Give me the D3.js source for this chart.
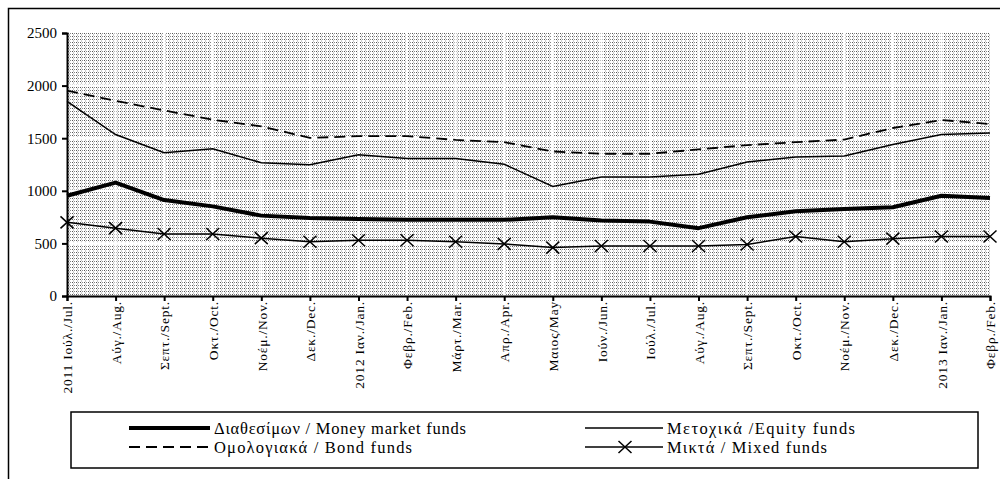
<!DOCTYPE html>
<html><head><meta charset="utf-8">
<script src="https://cdn.jsdelivr.net/npm/d3@7"></script>
<style>
html,body{margin:0;padding:0;background:#fff;}
svg{display:block;}
</style></head>
<body>
<svg id="chart" width="1000" height="479"></svg>
<script>
const categories = ["2011 Ιούλ./Jul.","Αύγ./Aug.","Σεπτ./Sept.","Οκτ./Oct.","Νοέμ./Nov.","Δεκ./Dec.","2012 Ιαν./Jan.","Φεβρ./Feb.","Μάρτ./Mar.","Απρ./Apr.","Μαιος/May","Ιούν./Jun.","Ιούλ./Jul.","Αύγ./Aug.","Σεπτ./Sept.","Οκτ./Οct.","Νοέμ./Nov.","Δεκ./Dec.","2013 Ιαν./Jan.","Φεβρ./Feb."];
const moneyMarket = [953,1078,912,852,764,742,733,724,724,724,748,717,707,645,748,805,827,843,953,931];
const equity = [1849,1535,1361,1399,1267,1248,1342,1308,1308,1252,1041,1132,1132,1157,1274,1321,1330,1440,1535,1550];
const bond = [1953,1855,1764,1676,1613,1503,1519,1519,1484,1462,1374,1352,1352,1393,1434,1462,1487,1597,1673,1635];
const mixed = [700,645,590,590,550,515,530,530,515,495,460,475,475,475,490,565,515,545,565,565];
const yTicks = [0,500,1000,1500,2000,2500];
const seriesNames = ["Διαθεσίμων / Money market funds","Ομολογιακά / Bond funds","Μετοχικά /Equity funds","Μικτά / Mixed funds"];

const FONT = "'Liberation Serif','Times New Roman',serif";
const svg = d3.select("#chart");
const pLeft = 67, pRight = 990, pTop = 33, pBottom = 296;
const x = d3.scalePoint().domain(d3.range(categories.length)).range([pLeft, pRight]);
const y = d3.scaleLinear().domain([0, 2500]).range([pBottom, pTop]);

// outer frame
svg.append("path").attr("d", "M8.5,479 V8.5 H1000").attr("fill","none").attr("stroke","#000").attr("stroke-width",1.5);

// dotted pattern
const defs = svg.append("defs");
const pat = defs.append("pattern").attr("id","dots").attr("patternUnits","userSpaceOnUse")
  .attr("width",4).attr("height",3).attr("x",0).attr("y",0);
pat.append("rect").attr("width",4).attr("height",3).attr("fill","#fff");
pat.append("rect").attr("x",0).attr("y",0).attr("width",1).attr("height",1).attr("fill","#555");
pat.append("rect").attr("x",2).attr("y",0).attr("width",1).attr("height",1).attr("fill","#888");
pat.append("rect").attr("x",1).attr("y",1.5).attr("width",1).attr("height",1).attr("fill","#999");

svg.append("rect").attr("x",pLeft).attr("y",pTop).attr("width",pRight-pLeft).attr("height",pBottom-pTop).attr("fill","url(#dots)");

// white gridlines
svg.append("g").selectAll("line").data(yTicks.filter(d=>d>0 && d<2500)).join("line")
  .attr("x1",pLeft).attr("x2",pRight).attr("y1",d=>y(d)).attr("y2",d=>y(d))
  .attr("stroke","#fff").attr("stroke-width",2.5);
svg.append("g").selectAll("line").data(d3.range(1,categories.length-1)).join("line")
  .attr("x1",d=>x(d)).attr("x2",d=>x(d)).attr("y1",pTop).attr("y2",pBottom)
  .attr("stroke","#fff").attr("stroke-width",2);

// axes
const yAxis = svg.append("g").attr("transform",`translate(${pLeft},0)`)
  .call(d3.axisLeft(y).tickValues(yTicks).tickSize(5).tickPadding(5).tickFormat(d3.format("d")));
yAxis.attr("font-family",FONT).attr("font-size",15);
yAxis.select(".domain").attr("stroke","#000").attr("stroke-width",2);
yAxis.selectAll(".tick line").attr("stroke","#000").attr("stroke-width",2);
yAxis.selectAll("text").attr("fill","#000");

const xAxis = svg.append("g").attr("transform",`translate(0,${pBottom})`)
  .call(d3.axisBottom(x).tickSize(5).tickFormat(i=>categories[i]));
xAxis.attr("font-family",FONT).attr("font-size",13.5);
xAxis.select(".domain").attr("stroke","#000").attr("stroke-width",2);
xAxis.selectAll(".tick line").attr("stroke","#000").attr("stroke-width",2);
xAxis.selectAll("text").attr("fill","#000").attr("letter-spacing","0.8px")
  .attr("text-anchor","end").attr("transform","rotate(-90)")
  .attr("x",-5).attr("y",0).attr("dy","0.35em");

// lines
const line = d3.line().x((d,i)=>x(i)).y(d=>y(d));
svg.append("path").datum(bond).attr("d",line).attr("fill","none").attr("stroke","#000")
  .attr("stroke-width",1.8).attr("stroke-dasharray","11,6");
svg.append("path").datum(equity).attr("d",line).attr("fill","none").attr("stroke","#000").attr("stroke-width",1.5);
svg.append("path").datum(moneyMarket).attr("d",line).attr("fill","none").attr("stroke","#000").attr("stroke-width",4).attr("stroke-linejoin","round");
svg.append("path").datum(mixed).attr("d",line).attr("fill","none").attr("stroke","#000").attr("stroke-width",1.5);
const xm = 6.5, ym = 6;
svg.append("g").selectAll("path").data(mixed).join("path")
  .attr("d",(d,i)=>`M${x(i)-xm},${y(d)-ym}L${x(i)+xm},${y(d)+ym}M${x(i)-xm},${y(d)+ym}L${x(i)+xm},${y(d)-ym}`)
  .attr("stroke","#000").attr("stroke-width",1.5);

// legend
const lg = svg.append("g").attr("font-family",FONT);
lg.append("rect").attr("x",71).attr("y",412).attr("width",907).attr("height",56)
  .attr("fill","#fff").attr("stroke","#000").attr("stroke-width",1.5);
const legendItems = [
  {name:seriesNames[0], x1:129, x2:210, ly:428, w:4, dash:null, marker:false, len:252},
  {name:seriesNames[1], x1:129, x2:210, ly:447, w:1.8, dash:"11,6", marker:false, len:198},
  {name:seriesNames[2], x1:585, x2:663, ly:428, w:1.5, dash:null, marker:false, len:188},
  {name:seriesNames[3], x1:585, x2:663, ly:447, w:1.5, dash:null, marker:true, len:160}
];
legendItems.forEach(it=>{
  lg.append("line").attr("x1",it.x1).attr("x2",it.x2).attr("y1",it.ly).attr("y2",it.ly)
    .attr("stroke","#000").attr("stroke-width",it.w).attr("stroke-dasharray",it.dash);
  if(it.marker){
    const cx=625, cy=it.ly;
    lg.append("path").attr("d",`M${cx-xm},${cy-ym}L${cx+xm},${cy+ym}M${cx-xm},${cy+ym}L${cx+xm},${cy-ym}`)
      .attr("stroke","#000").attr("stroke-width",1.5);
  }
  lg.append("text").attr("x",it.x2+4).attr("y",it.ly).attr("dy","0.35em")
    .attr("font-size",16.5).attr("fill","#000")
    .attr("textLength",it.len).attr("lengthAdjust","spacing").text(it.name);
});
</script>
</body></html>
